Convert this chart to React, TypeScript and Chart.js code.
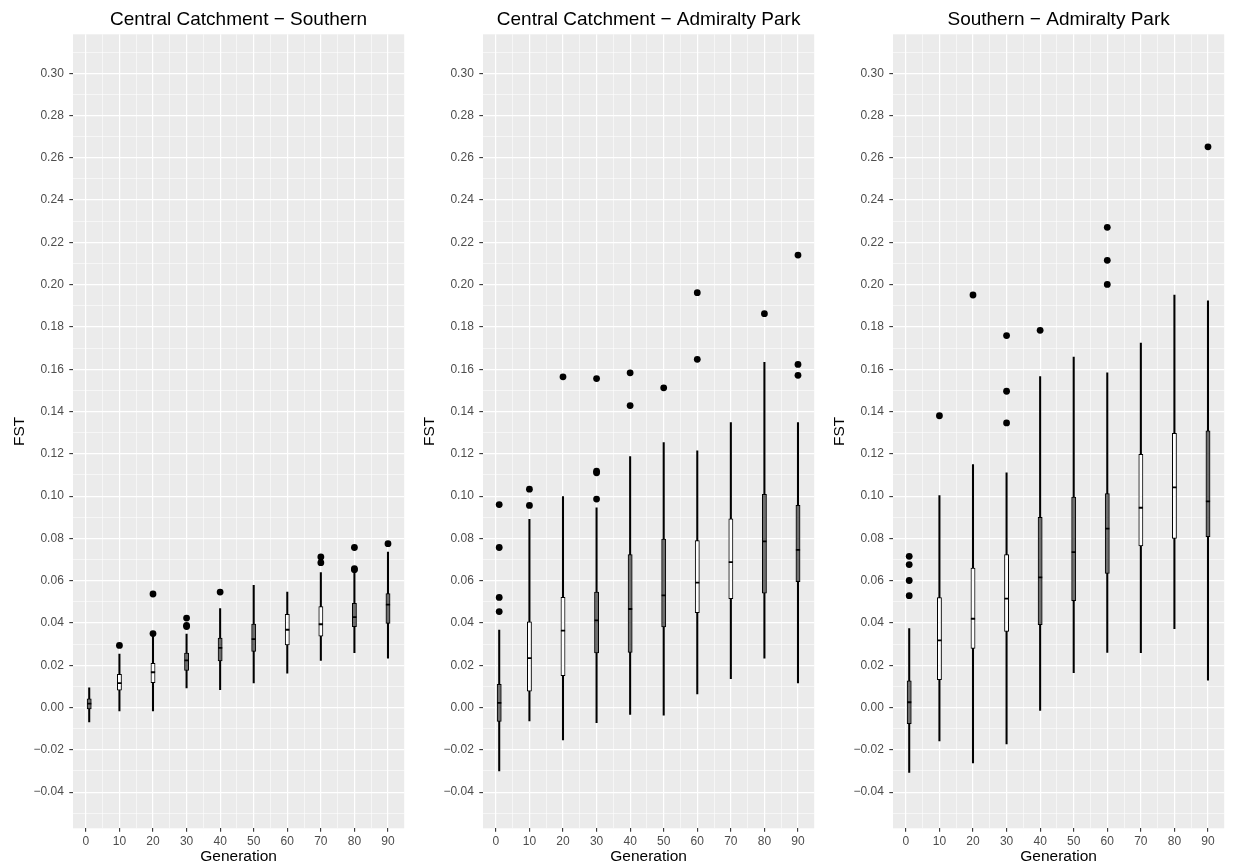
import React, { useEffect, useRef } from 'react';
import { Chart, registerables } from 'chart.js';

Chart.register(...registerables);

// ---------- data ----------
const generations = [1, 10, 20, 30, 40, 50, 60, 70, 80, 90];

const xTickValues = [0, 10, 20, 30, 40, 50, 60, 70, 80, 90];
const xTickLabels = ['0', '10', '20', '30', '40', '50', '60', '70', '80', '90'];
const xMinorValues = [5, 15, 25, 35, 45, 55, 65, 75, 85];

const yTickValues = [-0.04, -0.02, 0, 0.02, 0.04, 0.06, 0.08, 0.1, 0.12, 0.14, 0.16, 0.18, 0.2, 0.22, 0.24, 0.26, 0.28, 0.3];
const yTickLabels = ['−0.04', '−0.02', '0.00', '0.02', '0.04', '0.06', '0.08', '0.10', '0.12', '0.14', '0.16', '0.18', '0.20', '0.22', '0.24', '0.26', '0.28', '0.30'];
const yMinorValues = [-0.05, -0.03, -0.01, 0.01, 0.03, 0.05, 0.07, 0.09, 0.11, 0.13, 0.15, 0.17, 0.19, 0.21, 0.23, 0.25, 0.27, 0.29, 0.31];

// Central Catchment − Southern
const ccsTitle = 'Central Catchment − Southern';
const ccsLower = [-0.0068, -0.0016, -0.0016, 0.0093, 0.0085, 0.0116, 0.0163, 0.0223, 0.026, 0.0234];
const ccsQ1 = [-0.0007, 0.0082, 0.0118, 0.0176, 0.022, 0.0265, 0.0296, 0.0338, 0.0383, 0.0398];
const ccsMedian = [0.0019, 0.0116, 0.0167, 0.0223, 0.0282, 0.0324, 0.0368, 0.0394, 0.0428, 0.0487];
const ccsQ3 = [0.0041, 0.0157, 0.0209, 0.0258, 0.0329, 0.0395, 0.0441, 0.0477, 0.0493, 0.0539];
const ccsUpper = [0.0093, 0.0253, 0.0337, 0.0348, 0.0468, 0.0578, 0.0546, 0.0638, 0.064, 0.0735];
const ccsOutliers = [[], [0.0294], [0.035, 0.0537], [0.0423, 0.0389, 0.0383], [0.0546], [], [], [0.0712, 0.0685], [0.0757, 0.0657, 0.0652], [0.0775]];

// Central Catchment − Admiralty Park
const ccaTitle = 'Central Catchment − Admiralty Park';
const ccaLower = [-0.03, -0.0063, -0.0153, -0.0071, -0.0033, -0.0036, 0.0064, 0.0137, 0.0234, 0.0116];
const ccaQ1 = [-0.0065, 0.0078, 0.0151, 0.0258, 0.0261, 0.0381, 0.0449, 0.0515, 0.0541, 0.0595];
const ccaMedian = [0.0022, 0.0234, 0.0364, 0.0412, 0.0466, 0.0531, 0.0591, 0.0688, 0.0786, 0.0746];
const ccaQ3 = [0.011, 0.0406, 0.0521, 0.0546, 0.0724, 0.0797, 0.079, 0.0893, 0.1008, 0.0956];
const ccaUpper = [0.0367, 0.089, 0.0998, 0.0945, 0.1187, 0.1253, 0.1214, 0.1348, 0.1633, 0.1348];
const ccaOutliers = [[0.096, 0.0757, 0.0521, 0.0454], [0.1033, 0.0956], [0.1564], [0.0986, 0.1118, 0.111, 0.1556], [0.1428, 0.1583], [0.1512], [0.1647, 0.1962], [], [0.1863], [0.214, 0.1623, 0.1571]];

// Southern − Admiralty Park
const sapTitle = 'Southern − Admiralty Park';
const sapLower = [-0.0307, -0.0158, -0.0262, -0.0172, -0.0013, 0.0165, 0.0261, 0.026, 0.0373, 0.013];
const sapQ1 = [-0.0076, 0.0132, 0.028, 0.036, 0.0392, 0.0506, 0.0634, 0.0765, 0.08, 0.0808];
const sapMedian = [0.0025, 0.0318, 0.042, 0.0515, 0.0616, 0.0735, 0.0846, 0.0945, 0.1041, 0.0975];
const sapQ3 = [0.0126, 0.052, 0.066, 0.0723, 0.09, 0.0995, 0.1012, 0.1197, 0.1297, 0.1309];
const sapUpper = [0.0373, 0.1002, 0.1149, 0.111, 0.1565, 0.1658, 0.1583, 0.1724, 0.1951, 0.1924];
const sapOutliers = [[0.0715, 0.0676, 0.0601, 0.0529], [0.138], [0.1951], [0.1346, 0.1496, 0.1759], [0.1784], [], [0.2271, 0.2115, 0.2001], [], [], [0.2652]];

// ---------- styles ----------
const FONT = "'Liberation Sans', Arial, Helvetica, sans-serif";
const PANEL_BG = '#EBEBEB';
const BOX_GRAY = '#6e6e6e';
const BOX_WHITE = '#ffffff';
const shadeA = [1, 0, 0, 1, 1, 1, 0, 0, 1, 1];
const shadeB = [1, 0, 0, 0, 1, 1, 1, 0, 0, 1];

const panels = [
  { title: ccsTitle, lower: ccsLower, q1: ccsQ1, median: ccsMedian, q3: ccsQ3, upper: ccsUpper, outliers: ccsOutliers, shade: shadeA },
  { title: ccaTitle, lower: ccaLower, q1: ccaQ1, median: ccaMedian, q3: ccaQ3, upper: ccaUpper, outliers: ccaOutliers, shade: shadeA },
  { title: sapTitle, lower: sapLower, q1: sapQ1, median: sapMedian, q3: sapQ3, upper: sapUpper, outliers: sapOutliers, shade: shadeB },
];

const isIn = (arr: number[], v: number) => arr.some((a) => Math.abs(a - v) < 1e-9);

const panelBg = {
  id: 'panelBg',
  beforeDraw(chart: any) {
    const { ctx, chartArea: a } = chart;
    ctx.save();
    ctx.fillStyle = PANEL_BG;
    ctx.fillRect(a.left, a.top, a.right - a.left, a.bottom - a.top);
    ctx.restore();
  },
};

// Title centred over the plotting panel (as in ggplot), not over the whole canvas
const panelTitle = {
  id: 'panelTitle',
  afterDraw(chart: any, _args: any, opts: any) {
    const { ctx, chartArea: a } = chart;
    ctx.save();
    ctx.fillStyle = '#000';
    ctx.font = `19px ${FONT}`;
    ctx.textAlign = 'center';
    ctx.textBaseline = 'alphabetic';
    ctx.fillText(opts.text, (a.left + a.right) / 2, 25);
    ctx.restore();
  },
};

function buildConfig(p: any): any {
  const whiskers = generations.map((g, i) => ({ x: g, y: [p.lower[i], p.upper[i]] }));
  const boxes = generations.map((g, i) => ({ x: g, y: [p.q1[i], p.q3[i]] }));
  const medians = generations.map((g, i) => ({ x: g, y: p.median[i] }));
  const outs: any[] = [];
  generations.forEach((g, i) => p.outliers[i].forEach((v: number) => outs.push({ x: g, y: v })));

  return {
    type: 'bar',
    data: {
      datasets: [
        {
          type: 'bar', data: whiskers, grouped: false, barThickness: 1.4,
          backgroundColor: '#000', borderWidth: 0, order: 4,
        },
        {
          type: 'bar', data: boxes, grouped: false, barThickness: 4.2,
          backgroundColor: p.shade.map((s: number) => (s ? BOX_GRAY : BOX_WHITE)),
          borderColor: '#000', borderWidth: 1, borderSkipped: false, order: 3,
        },
        {
          type: 'scatter', data: medians, pointStyle: 'line', pointRadius: 2.1,
          pointBorderWidth: 1.8, pointBorderColor: '#000', pointBackgroundColor: '#000', order: 2,
        },
        {
          type: 'scatter', data: outs, pointStyle: 'circle', pointRadius: 3.4,
          pointBorderWidth: 0, pointBackgroundColor: '#000', order: 1,
        },
      ],
    },
    options: {
      responsive: false,
      devicePixelRatio: 1,
      animation: false,
      events: [],
      layout: { padding: { left: 0, right: 3.3, top: 34.3, bottom: 0 } },
      plugins: {
        legend: { display: false },
        tooltip: { enabled: false },
        title: { display: false },
        panelTitle: { text: p.title },
      },
      scales: {
        x: {
          type: 'linear', min: -3.83, max: 94.83, offset: false,
          afterBuildTicks: (s: any) => {
            s.ticks = [...xTickValues, ...xMinorValues].sort((a, b) => a - b).map((v) => ({ value: v }));
          },
          afterFit: (s: any) => { s.height = 38.7; s.paddingLeft = 0; s.paddingRight = 0; },
          border: { display: false },
          grid: {
            offset: false,
            color: '#ffffff',
            lineWidth: (c: any) => (c.tick && isIn(xTickValues, c.tick.value) ? 1.2 : 0.55),
            tickColor: (c: any) => (c.tick && isIn(xTickValues, c.tick.value) ? '#333333' : 'rgba(0,0,0,0)'),
            tickWidth: 1.1,
            tickLength: 3.5,
          },
          ticks: {
            autoSkip: false, maxRotation: 0, minRotation: 0, padding: 2.3,
            color: '#4D4D4D', font: { family: FONT, size: 12 },
            callback: (v: number) => {
              const i = xTickValues.findIndex((t) => Math.abs(t - v) < 1e-9);
              return i >= 0 ? xTickLabels[i] : '';
            },
          },
          title: {
            display: true, text: 'Generation', color: '#000',
            font: { family: FONT, size: 15.5, lineHeight: 1.2 },
            padding: { top: 0, bottom: 0.5 },
          },
        },
        y: {
          type: 'linear', min: -0.0571, max: 0.3184,
          afterBuildTicks: (s: any) => {
            s.ticks = [...yTickValues, ...yMinorValues].sort((a, b) => a - b).map((v) => ({ value: v }));
          },
          afterFit: (s: any) => { s.width = 73; s.paddingTop = 0; s.paddingBottom = 0; },
          border: { display: false },
          grid: {
            color: '#ffffff',
            lineWidth: (c: any) => (c.tick && isIn(yTickValues, c.tick.value) ? 1.2 : 0.55),
            tickColor: (c: any) => (c.tick && isIn(yTickValues, c.tick.value) ? '#333333' : 'rgba(0,0,0,0)'),
            tickWidth: 1.1,
            tickLength: 3.7,
          },
          ticks: {
            autoSkip: false, padding: 5.5,
            color: '#4D4D4D', font: { family: FONT, size: 12 },
            callback: (v: number) => {
              const i = yTickValues.findIndex((t) => Math.abs(t - v) < 1e-9);
              return i >= 0 ? yTickLabels[i] : '';
            },
          },
          title: {
            display: true, text: 'FST', color: '#000',
            font: { family: FONT, size: 15.5, lineHeight: 1.2 },
            padding: { top: 10.7, bottom: 0 },
          },
        },
      },
    },
    plugins: [panelBg, panelTitle],
  };
}

function Panel({ p }: { p: any }) {
  const ref = useRef<HTMLCanvasElement | null>(null);
  useEffect(() => {
    if (!ref.current) return;
    const chart = new Chart(ref.current, buildConfig(p));
    return () => chart.destroy();
  }, [p]);
  return <canvas ref={ref} width={410} height={867} style={{ display: 'block', width: 410, height: 867 }} />;
}

export default function App() {
  return (
    <div style={{ position: 'absolute', left: 0, top: 0, width: 1233, height: 867, display: 'flex', background: '#fff' }}>
      {panels.map((p, i) => (
        <Panel key={i} p={p} />
      ))}
    </div>
  );
}
